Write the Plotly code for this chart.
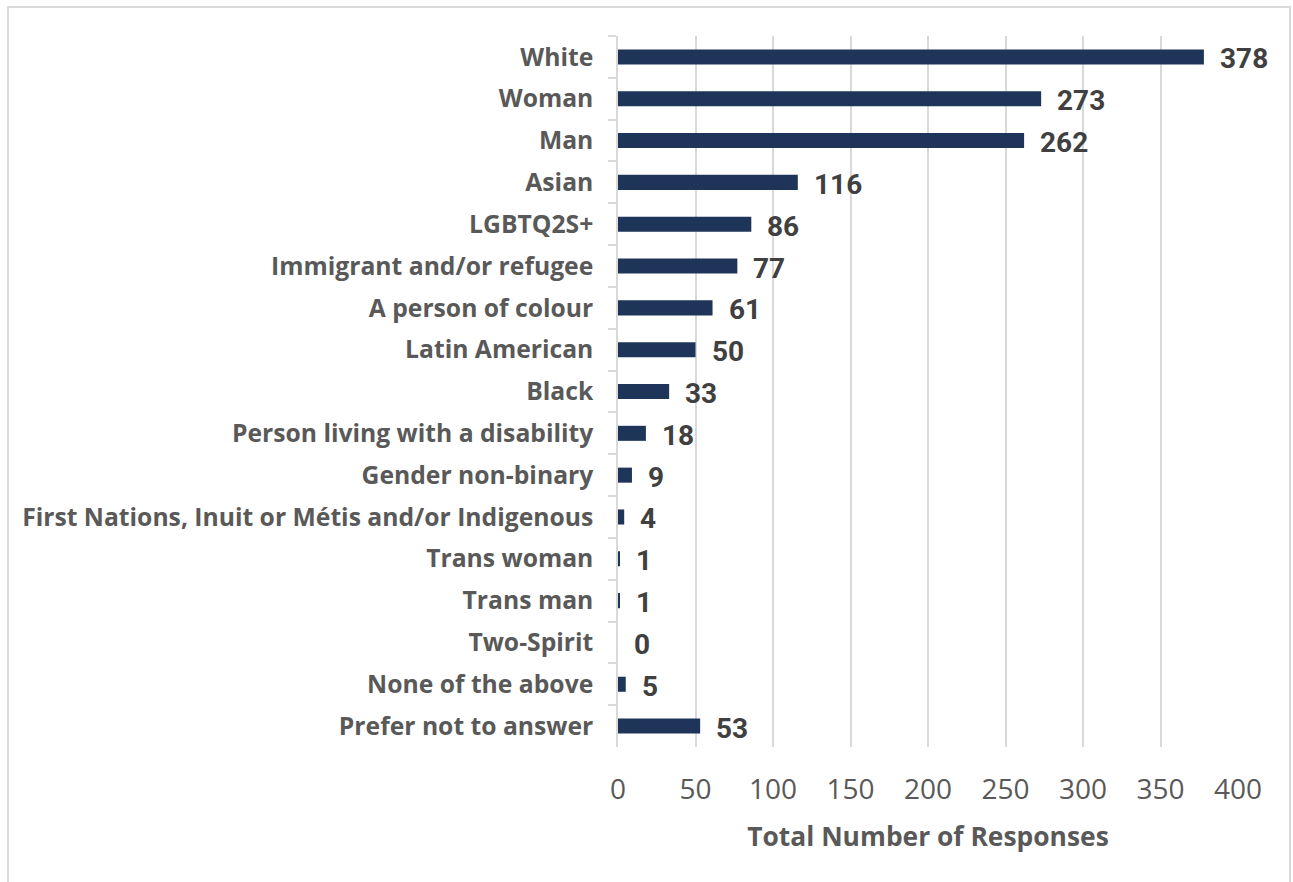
import plotly.graph_objects as go

categories = [
    "White", "Woman", "Man", "Asian", "LGBTQ2S+", "Immigrant and/or refugee",
    "A person of colour", "Latin American", "Black", "Person living with a disability",
    "Gender non-binary", "First Nations, Inuit or Métis and/or Indigenous",
    "Trans woman", "Trans man", "Two-Spirit", "None of the above", "Prefer not to answer",
]
values = [378, 273, 262, 116, 86, 77, 61, 50, 33, 18, 9, 4, 1, 1, 0, 5, 53]
x_ticks = [0, 50, 100, 150, 200, 250, 300, 350, 400]
x_title = "Total Number of Responses"

W, H = 1293, 882
L, R, T, B = 618, 1238, 36, 747
FONT = "Open Sans"

fig = go.Figure()
fig.add_trace(go.Bar(
    x=values, y=categories, orientation="h",
    marker=dict(color="#1e3559", line=dict(width=0)),
    width=0.36, hoverinfo="x+y",
))

for c, v in zip(categories, values):
    fig.add_annotation(x=v, y=c, xref="x", yref="y", text=f"<b>{v}</b>",
                       showarrow=False, xanchor="left", xshift=14, yshift=-2,
                       font=dict(family="Roboto", size=28, color="#404040"))

pw, ph = R - L, B - T
def px(xp):
    return (xp - L) / pw
def py(yp):
    return (B - yp) / ph

fig.add_shape(type="rect", xref="paper", yref="paper",
              x0=px(8), x1=px(1290), y0=py(890), y1=py(7),
              line=dict(color="#d9d9d9", width=2), fillcolor="rgba(0,0,0,0)", layer="below")

fig.update_layout(
    width=W, height=H,
    margin=dict(l=L, r=W - R, t=T, b=H - B, pad=0),
    paper_bgcolor="white", plot_bgcolor="white",
    showlegend=False,
    font=dict(family=FONT, color="#595959"),
    xaxis=dict(
        range=[0, 400], tickvals=x_ticks, showgrid=True, gridcolor="#d9d9d9", gridwidth=1.5,
        zeroline=False, showline=False, ticks="",
        tickfont=dict(family=FONT, size=28, color="#595959"),
        ticklabelstandoff=23,
        title=dict(text=f"<b>{x_title}</b>", font=dict(family=FONT, size=26.4, color="#595959"), standoff=21),
    ),
    yaxis=dict(
        autorange="reversed", showgrid=False, zeroline=False,
        showline=True, linecolor="#d9d9d9", linewidth=1.5,
        ticks="outside", tickson="boundaries", ticklen=8, tickcolor="#d9d9d9", tickwidth=1.5,
        tickfont=dict(family=FONT, size=24.7, color="#595959"),
        tickprefix="<b>", ticksuffix="</b>",
        ticklabelstandoff=18,
    ),
    bargap=0.64,
)

fig.write_html("out.html", config={"displayModeBar": False},
               post_script="document.body.style.margin='0';document.body.style.overflow='hidden';")
